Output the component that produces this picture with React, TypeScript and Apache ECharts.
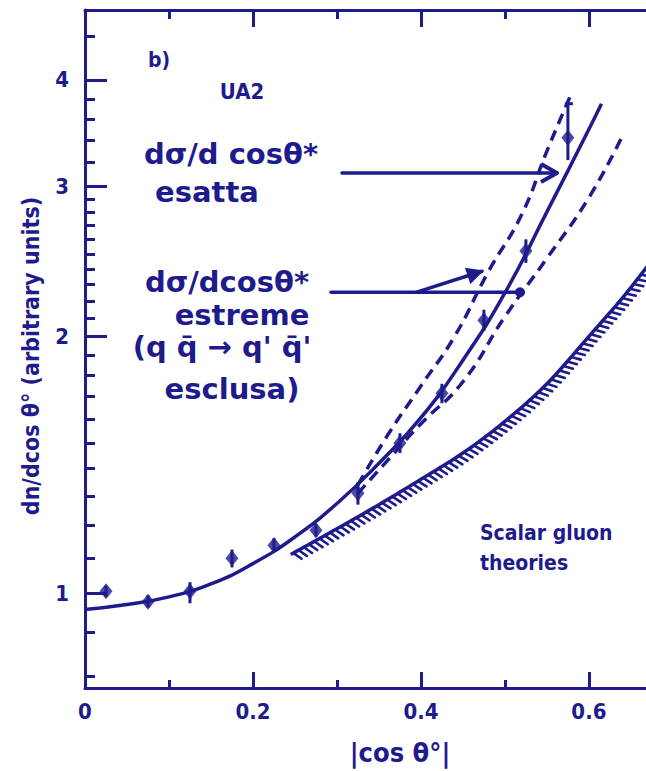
import React, { useEffect, useRef } from "react";
import * as echarts from "echarts";

const INK = "#1e1b8c";

// measured data points (|cos θ°|, dn/dcos θ°)
const pointX = [0.025, 0.075, 0.125, 0.175, 0.225, 0.275, 0.325, 0.375, 0.425, 0.475, 0.525, 0.575];
const pointY = [1.005, 0.977, 1.005, 1.099, 1.138, 1.185, 1.31, 1.5, 1.716, 2.09, 2.52, 3.42];
const pointLo = [0.99, 0.962, 0.973, 1.072, 1.118, 1.165, 1.27, 1.46, 1.67, 2.03, 2.44, 3.22];
const pointHi = [1.02, 0.994, 1.03, 1.125, 1.16, 1.205, 1.35, 1.54, 1.76, 2.15, 2.6, 3.75];

// dσ/dcosθ* esatta (solid)
const exactX = [0, 0.05, 0.1, 0.15, 0.2, 0.25, 0.3, 0.35, 0.4, 0.45, 0.5, 0.55, 0.6, 0.615];
const exactY = [0.957, 0.97, 0.99, 1.025, 1.083, 1.164, 1.274, 1.42, 1.606, 1.876, 2.25, 2.8, 3.5, 3.75];

// dσ/dcosθ* estreme (dashed)
const upperX = [0.325, 0.36, 0.4, 0.44, 0.48, 0.52, 0.55, 0.58];
const upperY = [1.34, 1.53, 1.75, 2.0, 2.38, 2.78, 3.3, 3.87];
const lowerX = [0.325, 0.36, 0.4, 0.45, 0.5, 0.55, 0.6, 0.64];
const lowerY = [1.31, 1.43, 1.58, 1.77, 2.11, 2.47, 2.91, 3.44];

// scalar gluon theories (hatched bound)
const scalarX = [0.245, 0.3, 0.35, 0.4, 0.45, 0.5, 0.55, 0.6, 0.64, 0.67];
const scalarY = [1.11, 1.19, 1.27, 1.36, 1.46, 1.59, 1.76, 2.0, 2.22, 2.42];

// annotation arrows (data coordinates)
const arrowFrom = [[0.306, 3.11], [0.293, 2.254], [0.395, 2.254]];
const arrowTo = [[0.562, 3.11], [0.518, 2.254], [0.4726, 2.385]];
const arrowHead = [1, 0, 2];

// ticks
const xMajorTicks = [0, 0.2, 0.4, 0.6];
const xMinorTicks = [0.1, 0.3, 0.5];
const yMajorTicks = [1, 2, 3, 4];
const yMinorTicks = [
  0.8, 0.9, 1.1, 1.2, 1.3, 1.4, 1.5, 1.6, 1.7, 1.8, 1.9,
  2.1, 2.2, 2.3, 2.4, 2.5, 2.6, 2.7, 2.8, 2.9, 3.2, 3.4, 3.6, 3.8, 4.5,
];

const X_MIN = 0;
const X_MAX = 0.668;
const Y_MIN = 0.774;
const Y_MAX = 4.83;

function catmull(pts: number[][], n: number) {
  const out: number[][] = [];
  for (let i = 0; i < pts.length - 1; i++) {
    const p0 = pts[Math.max(i - 1, 0)];
    const p1 = pts[i];
    const p2 = pts[i + 1];
    const p3 = pts[Math.min(i + 2, pts.length - 1)];
    for (let k = 0; k < n; k++) {
      const t = k / n;
      const t2 = t * t;
      const t3 = t2 * t;
      const v = [0, 1].map(
        (j) =>
          0.5 *
          (2 * p1[j] +
            (-p0[j] + p2[j]) * t +
            (2 * p0[j] - 5 * p1[j] + 4 * p2[j] - p3[j]) * t2 +
            (-p0[j] + 3 * p1[j] - 3 * p2[j] + p3[j]) * t3)
      );
      out.push(v);
    }
  }
  out.push(pts[pts.length - 1]);
  return out;
}

export default function App() {
  const ref = useRef<HTMLDivElement>(null);
  useEffect(() => {
    if (!ref.current) return;
    const chart = echarts.init(ref.current, undefined, { renderer: "svg" });
    const tickLabelFont = {
      color: INK,
      fontFamily: "DejaVu Sans Condensed",
      fontWeight: "bold" as const,
      fontSize: 22,
    };
    const hand = (text: string, x: number, y: number, size = 29) => ({
      type: "text",
      x,
      y,
      style: {
        text,
        fill: INK,
        fontFamily: "DejaVu Sans",
        fontWeight: "bold",
        fontSize: size,
        align: "center",
        verticalAlign: "middle",
      },
    });
    const bold = (text: string, x: number, y: number, size: number, align = "center", rotation = 0) => ({
      type: "text",
      x,
      y,
      rotation,
      style: {
        text,
        fill: INK,
        fontFamily: "DejaVu Sans Condensed",
        fontWeight: "bold",
        fontSize: size,
        align,
        verticalAlign: "middle",
      },
    });

    const option: any = {
      animation: false,
      backgroundColor: "#ffffff",
      grid: { left: 85, right: 0, top: 10, bottom: 83, containLabel: false },
      xAxis: [
        {
          type: "value",
          position: "bottom",
          min: X_MIN,
          max: X_MAX,
          axisLine: { show: true, onZero: false, lineStyle: { color: INK, width: 3 } },
          axisTick: { show: true, inside: true, length: 16, customValues: xMajorTicks, lineStyle: { color: INK, width: 3 } },
          axisLabel: {
            show: true,
            customValues: xMajorTicks,
            margin: 12,
            formatter: (v: number) => (v === 0 ? "0" : v.toFixed(1)),
            ...tickLabelFont,
          },
          splitLine: { show: false },
        },
        {
          type: "value",
          position: "bottom",
          min: X_MIN,
          max: X_MAX,
          axisLine: { show: false },
          axisTick: { show: true, inside: true, length: 8, customValues: xMinorTicks, lineStyle: { color: INK, width: 3 } },
          axisLabel: { show: false },
          splitLine: { show: false },
        },
        {
          type: "value",
          position: "top",
          min: X_MIN,
          max: X_MAX,
          axisLine: { show: true, onZero: false, lineStyle: { color: INK, width: 3 } },
          axisTick: { show: true, inside: true, length: 17, customValues: xMajorTicks.filter((v) => v > 0), lineStyle: { color: INK, width: 3 } },
          axisLabel: { show: false },
          splitLine: { show: false },
        },
        {
          type: "value",
          position: "top",
          min: X_MIN,
          max: X_MAX,
          axisLine: { show: false },
          axisTick: { show: true, inside: true, length: 9, customValues: xMinorTicks, lineStyle: { color: INK, width: 3 } },
          axisLabel: { show: false },
          splitLine: { show: false },
        },
      ],
      yAxis: [
        {
          type: "log",
          logBase: 10,
          position: "left",
          min: Y_MIN,
          max: Y_MAX,
          axisLine: { show: true, onZero: false, lineStyle: { color: INK, width: 3 } },
          axisTick: { show: true, inside: true, length: 22, customValues: yMajorTicks, lineStyle: { color: INK, width: 3 } },
          axisLabel: {
            show: true,
            customValues: yMajorTicks,
            margin: 16,
            formatter: (v: number) => String(Math.round(v)),
            ...tickLabelFont,
          },
          splitLine: { show: false },
          minorTick: { show: false },
        },
        {
          type: "log",
          logBase: 10,
          position: "left",
          min: Y_MIN,
          max: Y_MAX,
          axisLine: { show: false },
          axisTick: { show: true, inside: true, length: 10, customValues: yMinorTicks, lineStyle: { color: INK, width: 3 } },
          axisLabel: { show: false },
          splitLine: { show: false },
          minorTick: { show: false },
        },
      ],
      series: [
        {
          name: "esatta",
          type: "line",
          smooth: true,
          symbol: "none",
          data: exactX.map((x, i) => [x, exactY[i]]),
          lineStyle: { color: INK, width: 3.5 },
          z: 3,
        },
        {
          name: "estreme sup",
          type: "line",
          smooth: true,
          symbol: "none",
          data: upperX.map((x, i) => [x, upperY[i]]),
          lineStyle: { color: INK, width: 3.5, type: [11, 7] },
          z: 3,
        },
        {
          name: "estreme inf",
          type: "line",
          smooth: true,
          symbol: "none",
          data: lowerX.map((x, i) => [x, lowerY[i]]),
          lineStyle: { color: INK, width: 3.5, type: [11, 7] },
          z: 3,
        },
        {
          name: "scalar",
          type: "custom",
          clip: true,
          data: scalarX.map((x, i) => [x, scalarY[i]]),
          encode: { x: 0, y: 1 },
          renderItem: (params: any, api: any) => {
            if (params.dataIndex !== 0) return null;
            const pts = scalarX.map((x, i) => api.coord([x, scalarY[i]]));
            const dense = catmull(pts, 14);
            const children: any[] = [
              { type: "polyline", shape: { points: dense }, style: { stroke: INK, lineWidth: 3.5, fill: "none" } },
            ];
            let acc = 0;
            let next = 3;
            const spacing = 6;
            const ang = 0.45;
            for (let i = 1; i < dense.length; i++) {
              const [x0, y0] = dense[i - 1];
              const [x1, y1] = dense[i];
              const dx = x1 - x0;
              const dy = y1 - y0;
              const L = Math.hypot(dx, dy);
              if (L === 0) continue;
              const ux = dx / L;
              const uy = dy / L;
              const nx = -uy;
              const ny = ux;
              const hx = nx * Math.cos(ang) + ux * Math.sin(ang);
              const hy = ny * Math.cos(ang) + uy * Math.sin(ang);
              while (next <= acc + L) {
                const t = (next - acc) / L;
                const px = x0 + dx * t;
                const py = y0 + dy * t;
                children.push({
                  type: "line",
                  shape: { x1: px + hx, y1: py + hy, x2: px + hx * 10, y2: py + hy * 10 },
                  style: { stroke: INK, lineWidth: 2.6, lineCap: "round" },
                });
                next += spacing;
              }
              acc += L;
            }
            return { type: "group", children };
          },
          z: 3,
        },
        {
          name: "errors",
          type: "custom",
          data: pointX.map((x, i) => [x, pointLo[i], pointHi[i]]),
          encode: { x: 0, y: [1, 2] },
          renderItem: (params: any, api: any) => {
            const x = api.value(0);
            const a = api.coord([x, api.value(1)]);
            const b = api.coord([x, api.value(2)]);
            const children: any[] = [
              { type: "line", shape: { x1: a[0], y1: a[1], x2: b[0], y2: b[1] }, style: { stroke: INK, lineWidth: 3 } },
            ];
            if (api.value(2) / api.value(1) > 1.12) {
              children.push({
                type: "line",
                shape: { x1: b[0] - 3, y1: b[1], x2: b[0] + 5, y2: b[1] },
                style: { stroke: INK, lineWidth: 3 },
              });
            }
            return { type: "group", children };
          },
          z: 4,
        },
        {
          name: "data",
          type: "scatter",
          symbol: "diamond",
          symbolSize: [13, 16],
          data: pointX.map((x, i) => [x, pointY[i]]),
          itemStyle: { color: INK },
          z: 5,
        },
        {
          name: "arrows",
          type: "custom",
          data: arrowFrom.map((f, i) => [f[0], f[1], arrowTo[i][0], arrowTo[i][1], arrowHead[i]]),
          encode: { x: [0, 2], y: [1, 3] },
          renderItem: (params: any, api: any) => {
            const a = api.coord([api.value(0), api.value(1)]);
            const b = api.coord([api.value(2), api.value(3)]);
            const head = api.value(4);
            const children: any[] = [
              {
                type: "line",
                shape: { x1: a[0], y1: a[1], x2: b[0], y2: b[1] },
                style: { stroke: INK, lineWidth: 3.5, lineCap: "round" },
              },
            ];
            const dx = b[0] - a[0];
            const dy = b[1] - a[1];
            const L = Math.hypot(dx, dy);
            const ux = dx / L;
            const uy = dy / L;
            if (head === 1) {
              const hl = 16;
              const hw = 9;
              const bx = b[0] - ux * hl;
              const by = b[1] - uy * hl;
              children.push({
                type: "polyline",
                shape: { points: [[bx - uy * hw, by + ux * hw], [b[0], b[1]], [bx + uy * hw, by - ux * hw]] },
                style: { stroke: INK, lineWidth: 4, fill: "none", lineJoin: "round" },
              });
            } else if (head === 2) {
              const hl = 14;
              const hw = 7;
              const bx = b[0] - ux * hl;
              const by = b[1] - uy * hl;
              children.push({
                type: "polygon",
                shape: { points: [[bx - uy * hw, by + ux * hw], [b[0], b[1]], [bx + uy * hw, by - ux * hw]] },
                style: { fill: INK, stroke: INK, lineWidth: 2 },
              });
            } else {
              children.push({ type: "circle", shape: { cx: b[0], cy: b[1], r: 5 }, style: { fill: INK } });
            }
            return { type: "group", children };
          },
          z: 4,
        },
      ],
      graphic: [
        bold("b)", 159, 60, 21),
        bold("UA2", 242, 91, 22),
        hand("dσ/d cosθ*", 231, 154),
        hand("esatta", 207, 192),
        hand("dσ/dcosθ*", 227, 282),
        hand("estreme", 242, 315),
        hand("(q q̄ → q' q̄'", 222, 347),
        hand("esclusa)", 232, 389),
        bold("Scalar gluon", 480, 533, 21, "left"),
        bold("theories", 480, 563, 21, "left"),
        bold("|cos θ°|", 400, 752, 27),
        bold("dn/dcos θ° (arbitrary units)", 31, 356, 23, "center", Math.PI / 2),
      ],
    };
    chart.setOption(option);
    return () => chart.dispose();
  }, []);
  return (
    <div
      ref={ref}
      style={{ position: "absolute", left: 0, top: 0, width: 646, height: 771, background: "#ffffff" }}
    />
  );
}
